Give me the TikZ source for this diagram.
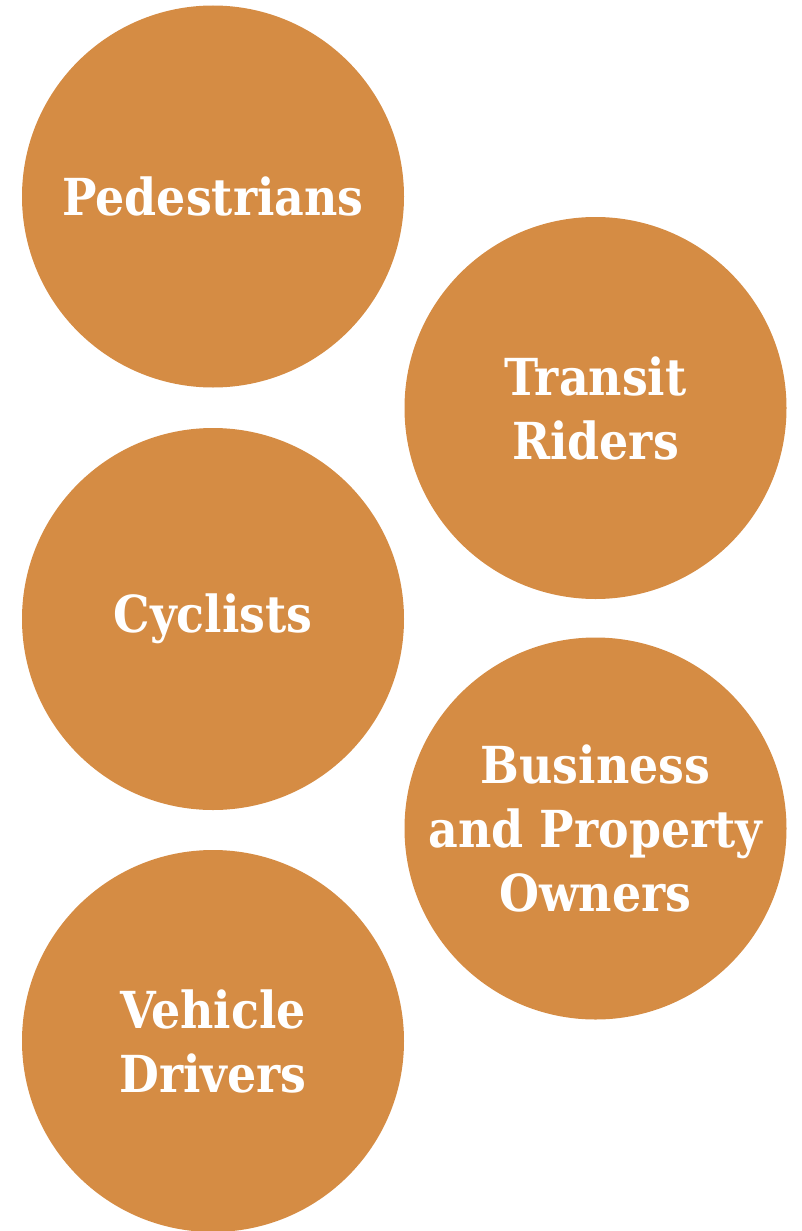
\documentclass[tikz,border=0pt]{standalone}
\usepackage{fontspec}
\setmainfont{DejaVu Serif Condensed}[BoldFont={DejaVu Serif Condensed Bold}]
\definecolor{disc}{HTML}{D58C44}
\begin{document}
\begin{tikzpicture}[x=1pt,y=-1pt,
  group/.style={circle,fill=disc,minimum size=382pt,inner sep=0pt,
    text=white,font=\bfseries\fontsize{51}{64}\selectfont,align=center}]
\useasboundingbox (0,0) rectangle (801,1231);
\node[group] (ped) at (213,196.5) {Pedestrians};
\node[group] (tra) at (595.5,408) {Transit\\Riders};
\node[group] (cyc) at (213,619) {Cyclists};
\node[group] (bus) at (595.5,828.5) {Business\\and Property\\Owners};
\node[group] (veh) at (213,1041) {Vehicle\\Drivers};
\end{tikzpicture}
\end{document}
